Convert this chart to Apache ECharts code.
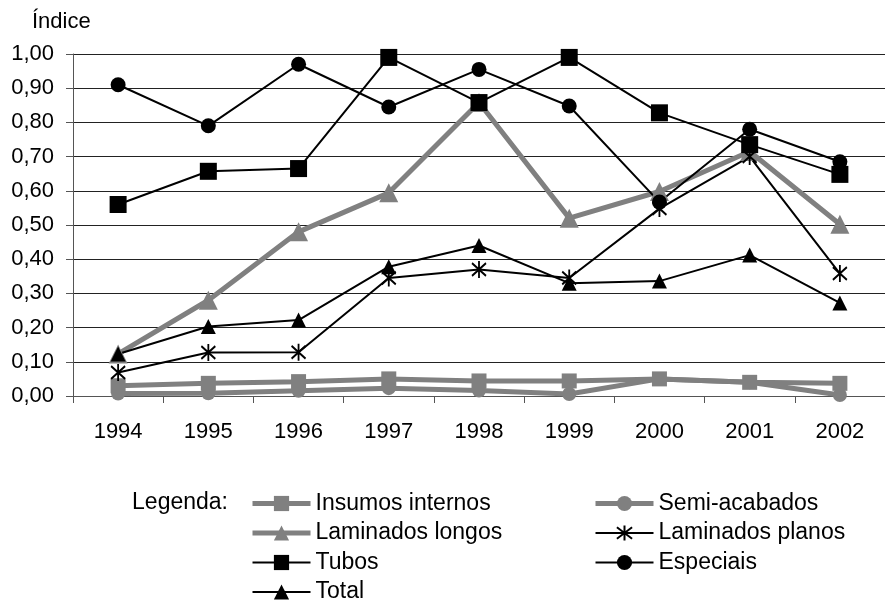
<!DOCTYPE html>
<html>
<head>
<meta charset="utf-8">
<script src="https://cdn.jsdelivr.net/npm/echarts@6/dist/echarts.min.js"></script>
<style>
  html, body { margin: 0; padding: 0; background: #fff; }
  #chart { width: 885px; height: 601px; }
</style>
</head>
<body>
<div id="chart"></div>
<script>
// anos do eixo x
const years = ['1994', '1995', '1996', '1997', '1998', '1999', '2000', '2001', '2002'];

// índices
const insumos = [0.030, 0.037, 0.042, 0.050, 0.044, 0.044, 0.050, 0.040, 0.037];
const semiAcabados = [0.007, 0.008, 0.015, 0.023, 0.016, 0.006, 0.050, 0.040, 0.003];
const lamLongos = [0.123, 0.280, 0.480, 0.594, 0.858, 0.520, 0.598, 0.715, 0.502];
const lamPlanos = [0.069, 0.127, 0.128, 0.345, 0.370, 0.345, 0.548, 0.700, 0.358];
const tubos = [0.560, 0.657, 0.665, 0.990, 0.858, 0.990, 0.828, 0.735, 0.648];
const especiais = [0.910, 0.790, 0.970, 0.845, 0.955, 0.848, 0.567, 0.780, 0.685];
const total = [0.123, 0.203, 0.222, 0.378, 0.440, 0.330, 0.336, 0.412, 0.272];

const FONT = "'Liberation Sans', Arial, sans-serif";
const GREY = '#808080';
const asterisk = 'path://M5,0L5,12M0,1.5L10,10.5M10,1.5L0,10.5';

const chart = echarts.init(document.getElementById('chart'));

function serie(name, data, color, width, symbol, size, extra) {
  return Object.assign({
    name: name,
    type: 'line',
    data: data,
    symbol: symbol,
    symbolSize: size,
    showAllSymbol: true,
    animation: false,
    lineStyle: { color: color, width: width },
    itemStyle: { color: color, borderWidth: 0 },
    emphasis: { disabled: true }
  }, extra || {});
}

// item da legenda com a espessura da linha da série
function leg(name, width) {
  return { name: name, lineStyle: { width: width } };
}

function legenda(left, items) {
  return {
    orient: 'vertical',
    left: left,
    top: 492,
    height: 140,
    padding: 0,
    itemWidth: 58,
    itemHeight: 19,
    itemGap: 6.5,
    textStyle: { fontSize: 23, fontFamily: FONT, color: '#000' },
    data: items
  };
}

const option = {
  animation: false,
  textStyle: { fontFamily: FONT },
  grid: { left: 73, top: 54, width: 814, height: 342 },
  xAxis: {
    type: 'category',
    data: years,
    boundaryGap: true,
    axisLine: { lineStyle: { color: '#555', width: 1 } },
    axisTick: { show: true, length: 7, lineStyle: { color: '#555' } },
    axisLabel: { color: '#000', fontSize: 22, fontFamily: FONT, margin: 25 }
  },
  yAxis: {
    type: 'value',
    min: 0,
    max: 1,
    interval: 0.1,
    axisLine: { show: true, lineStyle: { color: '#555', width: 1 } },
    axisTick: { show: true, length: 7, lineStyle: { color: '#555' } },
    axisLabel: {
      color: '#000', fontSize: 22, fontFamily: FONT, margin: 19,
      formatter: function (v) { return v.toFixed(2).replace('.', ','); }
    },
    splitLine: { lineStyle: { color: '#222', width: 1 } }
  },
  legend: [
    legenda(250, [leg('Insumos internos', 5), leg('Laminados longos', 5), leg('Tubos', 2), leg('Total', 2)]),
    legenda(593, [leg('Semi-acabados', 5), leg('Laminados planos', 2), leg('Especiais', 2)])
  ],
  graphic: [
    { type: 'text', left: 32, top: 11, style: { text: 'Índice', font: '22px ' + FONT, fill: '#000' } },
    { type: 'text', right: 885 - 228, top: 491, style: { text: 'Legenda:', font: '23px ' + FONT, fill: '#000' } }
  ],
  series: [
    serie('Insumos internos', insumos, GREY, 5, 'rect', 15),
    serie('Semi-acabados', semiAcabados, GREY, 5, 'circle', 14),
    serie('Laminados longos', lamLongos, GREY, 5, 'triangle', 19),
    serie('Laminados planos', lamPlanos, '#000', 2, asterisk, [14, 17], {
      itemStyle: { color: '#000', borderColor: '#000', borderWidth: 2 }
    }),
    serie('Tubos', tubos, '#000', 2, 'rect', 17),
    serie('Especiais', especiais, '#000', 2, 'circle', 15),
    serie('Total', total, '#000', 2, 'triangle', 15)
  ]
};

chart.setOption(option);
</script>
</body>
</html>
